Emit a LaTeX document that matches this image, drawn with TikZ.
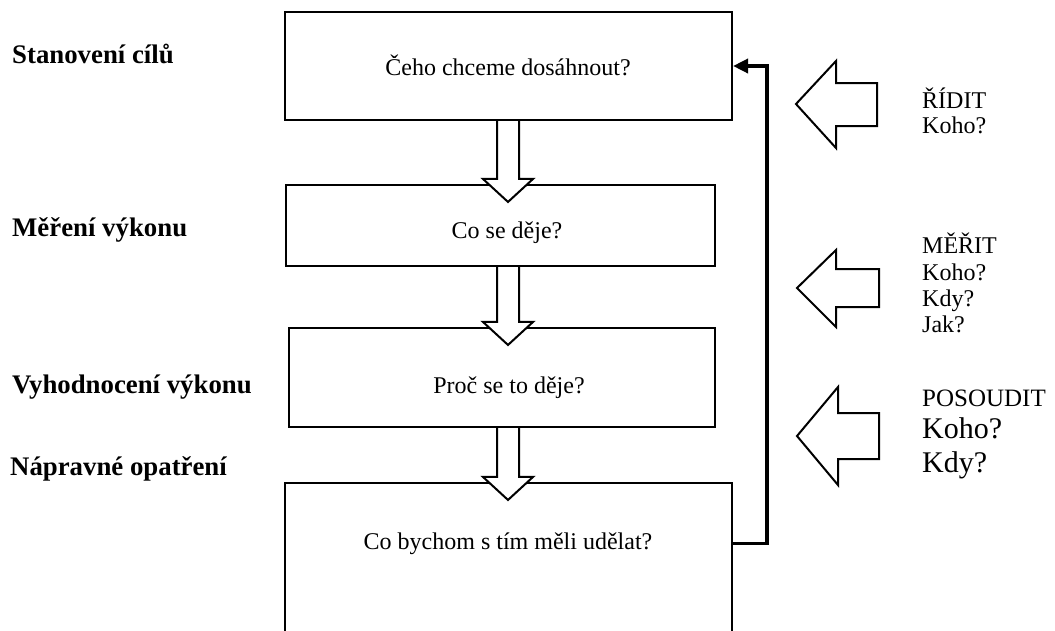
\documentclass[tikz,border=0pt]{standalone}
\usepackage{fontspec}
\setmainfont{Liberation Serif}
\usetikzlibrary{arrows.meta,calc}
\begin{document}
\begin{tikzpicture}[x=1pt,y=-1pt,
  box/.style={draw,line width=2.1pt,inner sep=0pt},
  boxtext/.style={font=\fontsize{24}{28}\selectfont,anchor=base,inner sep=0pt},
  sidelabel/.style={font=\bfseries\fontsize{26.8}{30}\selectfont,anchor=base west,inner sep=0pt},
  righttext/.style={font=\fontsize{24}{28}\selectfont,anchor=base west,inner sep=0pt},
  bigtext/.style={font=\fontsize{30}{34}\selectfont,anchor=base west,inner sep=0pt},
  hollow/.style={draw,fill=white,line width=2pt,line join=miter},
  feedback/.style={draw,line width=3.5pt,-{Triangle[length=15pt,width=14pt]}}]
\useasboundingbox[fill=white] (0,0) rectangle (1055,630);

% boxes
\node[box,minimum width=447,minimum height=108] (b1) at (508.5,66) {};
\node[box,minimum width=429,minimum height=81] (b2) at (500.5,225.5) {};
\node[box,minimum width=426,minimum height=99] (b3) at (502,377.5) {};
\node[box,minimum width=447,minimum height=180] (b4) at (508.5,573) {};

% box texts
\node[boxtext] (t1) at (508,75) {Čeho chceme dosáhnout?};
\node[boxtext] (t2) at (507,238) {Co se děje?};
\node[boxtext] (t3) at (509,393) {Proč se to děje?};
\node[boxtext] (t4) at (508,549) {Co bychom s tím měli udělat?};

% side labels
\node[sidelabel] (l1) at (12,63) {Stanovení cílů};
\node[sidelabel] (l2) at (12,236) {Měření výkonu};
\node[sidelabel] (l3) at (12,393) {Vyhodnocení výkonu};
\node[sidelabel] (l4) at (10,475) {Nápravné opatření};

% hollow down arrows
\foreach \a/\b in {b1/b2,b2/b3,b3/b4}{
  \draw[hollow] let \p1=(\a.south), \p2=(\b.north) in
    (497pt,\y1) -- (497pt,\y2+5pt) -- (483pt,\y2+5pt) -- (508pt,\y2-18pt)
    -- (533pt,\y2+5pt) -- (519pt,\y2+5pt) -- (519pt,\y1);
}

% feedback loop
\coordinate (fbtop) at ([xshift=34pt]b1.east);
\draw[feedback] (b4.east |- t4.center) -| (fbtop) -- (b1.east);

% left-pointing hollow arrows
\draw[hollow] (796,104) -- (836,61) -- (836,83) -- (877,83) -- (877,126) -- (836,126) -- (836,148) -- cycle;
\draw[hollow] (797,288) -- (836,250) -- (836,269) -- (879,269) -- (879,307) -- (836,307) -- (836,327) -- cycle;
\draw[hollow] (797,436) -- (838,387) -- (838,413) -- (879,413) -- (879,459) -- (838,459) -- (838,485) -- cycle;

% right texts
\node[righttext] (r1a) at (922,108) {ŘÍDIT};
\node[righttext] (r1b) at (922,133) {Koho?};
\node[righttext] (r2a) at (922,253) {MĚŘIT};
\node[righttext] (r2b) at (922,280) {Koho?};
\node[righttext] (r2c) at (922,306) {Kdy?};
\node[righttext] (r2d) at (922,332) {Jak?};
\node[righttext,font=\fontsize{25}{28}\selectfont] (r3a) at (922,406) {POSOUDIT};
\node[bigtext] (r3b) at (922,438) {Koho?};
\node[bigtext] (r3c) at (922,472) {Kdy?};
\end{tikzpicture}
\end{document}
